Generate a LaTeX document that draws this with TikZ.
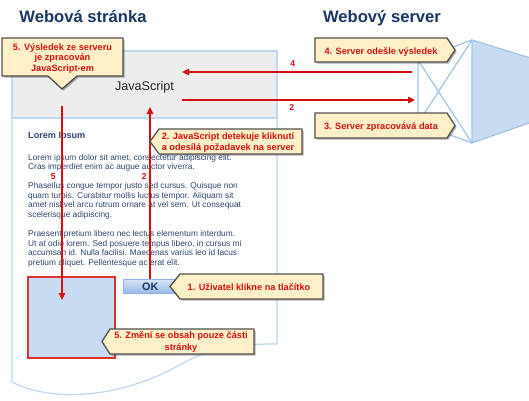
\documentclass[tikz,border=0pt]{standalone}
\usepackage{fontspec}
\setmainfont{Liberation Sans}
\usetikzlibrary{arrows.meta,shadows}
\definecolor{titleblue}{RGB}{26,54,98}
\definecolor{bodyblue}{RGB}{45,70,112}
\definecolor{redline}{RGB}{214,16,16}
\definecolor{calloutred}{RGB}{214,16,16}
\definecolor{calloutfill}{RGB}{255,240,200}
\definecolor{calloutborder}{RGB}{80,80,80}
\definecolor{pageline}{RGB}{192,215,238}
\definecolor{headergray}{RGB}{237,237,237}
\definecolor{lightblue}{RGB}{200,219,240}
\definecolor{serverline}{RGB}{160,196,230}
\definecolor{boxred}{RGB}{222,50,50}
\begin{document}
\begin{tikzpicture}[x=1pt,y=-1pt,
  callout/.style={fill=calloutfill,draw=calloutborder,line width=1.3pt,line join=miter,
    drop shadow={shadow xshift=1.6pt,shadow yshift=-1.6pt,opacity=.3,fill=black}},
  ctext/.style={text=calloutred,font=\fontsize{9.2}{11}\selectfont\bfseries,inner sep=0pt,anchor=base},
  btext/.style={text=bodyblue,font=\fontsize{8.35}{9.7}\selectfont,inner sep=0pt,anchor=base west},
  numlabel/.style={text=calloutred,font=\fontsize{8.6}{10}\selectfont\bfseries,inner sep=0pt,anchor=base},
  titletext/.style={text=titleblue,font=\fontsize{16.6}{19}\selectfont\bfseries,inner sep=0pt,anchor=base},
  redarrow/.style={draw=redline,line width=1.5pt,-{Triangle[length=7pt,width=6.5pt]}},
  pagestroke/.style={draw=pageline,line width=1.2pt},
  serverstroke/.style={draw=serverline,line width=1.2pt}]
\useasboundingbox[fill=white] (0,0) rectangle (529,400);

% titles
\node[titletext] (titleL) at (83,22) {Webová stránka};
\node[titletext] (titleR) at (382,22) {Webový server};

% page
\path[pagestroke] (12,118) -- (12,382) .. controls (50,402) and (120,400) .. (185,362)
  .. controls (215,346) and (240,344) .. (277,344) -- (277,118);
\filldraw[pagestroke,fill=headergray] (12,51) rectangle (277,118);
\node[text=black!85,font=\fontsize{12.6}{14}\selectfont,inner sep=0pt,anchor=base] (js) at (144.5,90) {JavaScript};

% body text
\node[btext,font=\fontsize{9.1}{10}\selectfont\bfseries] (lorem) at (28,138) {Lorem Ipsum};
\node[btext] (p1a) at (28,160) {Lorem ipsum dolor sit amet, consectetur adipiscing elit.};
\node[btext] (p1b) at (28,169.8) {Cras imperdiet enim ac augue auctor viverra.};
\node[btext] (p2a) at (28,188.5) {Phasellus congue tempor justo sed cursus. Quisque non};
\node[btext] (p2b) at (28,198.2) {quam turpis. Curabitur mollis luctus tempor. Aliquam sit};
\node[btext] (p2c) at (28,207.9) {amet nisl vel arcu rutrum ornare at vel sem. Ut consequat};
\node[btext] (p2d) at (28,217.6) {scelerisque adipiscing.};
\node[btext] (p3a) at (28,236.5) {Praesent pretium libero nec lectus elementum interdum.};
\node[btext] (p3b) at (28,246.1) {Ut at odio lorem. Sed posuere tempus libero, in cursus mi};
\node[btext] (p3c) at (28,255.7) {accumsan id. Nulla facilisi. Maecenas varius leo id lacus};
\node[btext] (p3d) at (28,265.3) {pretium aliquet. Pellentesque ac erat elit.};

% changed region and button
\filldraw[fill=lightblue,draw=boxred,line width=1.5pt] (28,277) rectangle (115,358);
\coordinate (regionTop) at (62,300);
\shade[top color=lightblue!70!white,bottom color=serverline!95!blue,draw=serverline!90!blue,line width=0.8pt]
  (123,279) rectangle (180,293);
\node[text=titleblue,font=\fontsize{10.8}{12}\selectfont\bfseries,inner sep=0pt,anchor=base] (ok) at (150.3,290) {OK};
\coordinate (okTop) at (150,279);

% server
\fill[lightblue] (472,40) -- (529,57.5) -- (529,123) -- (472,143) -- cycle;
\draw[serverstroke] (529,57.5) -- (472,40) -- (472,143) -- (529,123);
\draw[serverstroke] (472,40) -- (418,60) -- (418,123) -- (472,143);
\draw[serverstroke] (418,60) -- (472,143);
\draw[serverstroke] (418,123) -- (472,40);

% connector end points
\coordinate (jsIn) at (182,72);
\coordinate (jsOut) at (182,100);
\coordinate (srvOut) at (412,72);
\coordinate (srvIn) at (415,100);
\coordinate (jsBottomL) at (62,106);
\coordinate (jsBottomR) at (150,107);

% red connectors
\draw[redarrow] (srvOut) -- (jsIn);
\draw[redarrow] (jsOut) -- (srvIn);
\draw[redarrow] (jsBottomL) -- (regionTop);
\draw[redarrow] (okTop) -- (jsBottomR);
\node[numlabel] (n4) at (292.7,66.5) {4};
\node[numlabel] (n2a) at (291.7,110) {2};
\node[numlabel] (n5) at (53.3,179.5) {5};
\node[numlabel] (n2b) at (144.3,179.5) {2};

% callouts
\path[callout] (2,38) -- (123,38) -- (123,76) -- (77,76) -- (62,89) -- (48,76) -- (2,76) -- cycle;
\node[ctext] (c5a) at (62.5,50) {5. Výsledek ze serveru};
\node[ctext] (c5b) at (62.5,60.5) {je zpracován};
\node[ctext] (c5c) at (62.5,71) {JavaScript-em};

\path[callout] (315,38) -- (447,38) -- (455,50) -- (447,62) -- (315,62) -- cycle;
\node[ctext] (c4) at (381,54) {4. Server odešle výsledek};

\path[callout] (315,113) -- (447,113) -- (455,125.5) -- (447,138) -- (315,138) -- cycle;
\node[ctext] (c3) at (381,129.5) {3. Server zpracovává data};

\path[callout] (159,129) -- (302,129) -- (302,154) -- (159,154) -- (150,141.5) -- cycle;
\node[ctext] (c2a) at (228,139.5) {2. JavaScript detekuje kliknutí};
\node[ctext] (c2b) at (228,150.5) {a odesílá požadavek na server};

\path[callout] (180,274) -- (323,274) -- (323,299) -- (180,299) -- (170,286.5) -- cycle;
\node[ctext] (c1) at (249,290.5) {1. Uživatel klikne na tlačítko};

\path[callout] (110,329) -- (254,329) -- (254,354) -- (110,354) -- (102,341.5) -- cycle;
\node[ctext] (c5d) at (181,338.5) {5. Změní se obsah pouze části};
\node[ctext] (c5e) at (181,350) {stránky};
\end{tikzpicture}
\end{document}
